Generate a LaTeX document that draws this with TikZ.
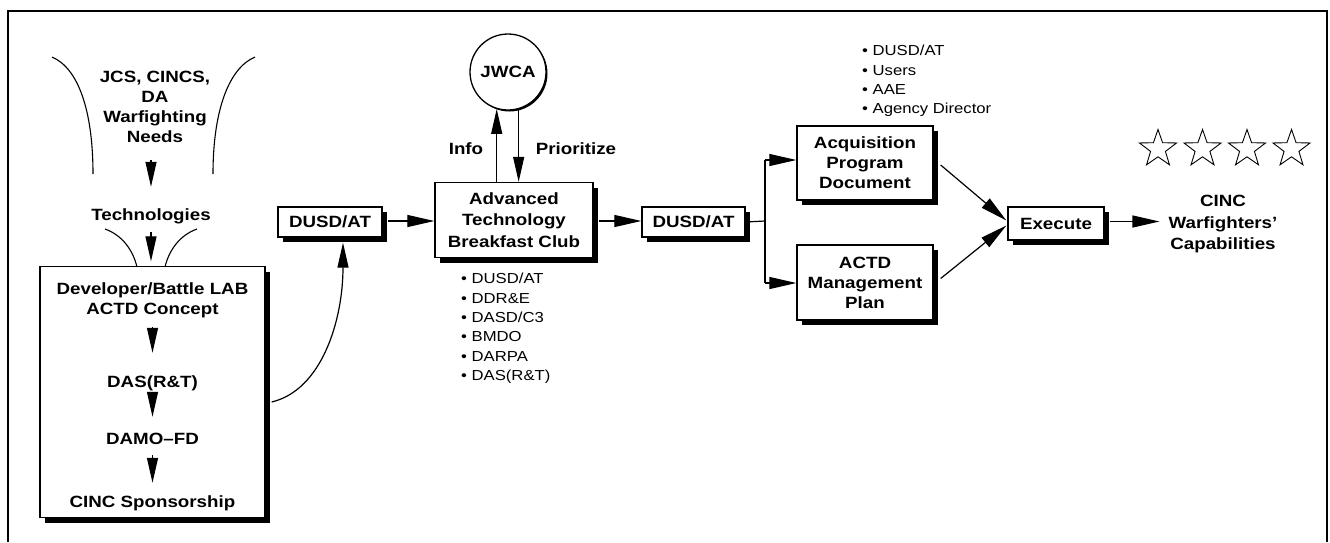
\documentclass[tikz,border=0pt]{standalone}
\usepackage{fontspec}
\setmainfont{Liberation Sans}[FakeStretch=1.15]
\usetikzlibrary{arrows.meta,shapes.geometric,shadows,calc}

\begin{document}
\begin{tikzpicture}[x=1pt,y=-1pt,
  every node/.style={inner sep=0pt},
  bf/.style={font=\bfseries\fontsize{16.3}{20}\selectfont, align=center},
  bfw/.style={font=\bfseries\fontsize{16.3}{21.5}\selectfont, align=center},
  one/.style={text height=12pt, text depth=4pt},
  lst/.style={font=\fontsize{14.5}{19.4}\selectfont, align=left},
  box/.style={draw, line width=1.3pt, fill=white,
    drop shadow={shadow xshift=5pt, shadow yshift=-5pt, fill=black, opacity=1}},
  con/.style={line width=1.2pt},
  tipH/.tip={Triangle[length=27pt,width=12pt]},
  tipV/.tip={Triangle[length=25pt,width=11pt]},
  arr/.style={line width=1.2pt, -tipH},
  varr/.style={line width=1.2pt, -tipV},
  fun/.style={line width=1.1pt},
  starn/.style={star, star points=5, star point ratio=2.5, draw, line width=0.9pt,
    minimum size=39pt}
]
\useasboundingbox (0,0) rectangle (1330,542);

% outer frame
\draw[line width=1.6pt] (8,542) -- (8,11) -- (1327,11) -- (1327,542);

% ---- needs funnel ----
\node[bf] (needs) at (155,106.5) {JCS, CINCS,\\DA\\Warfighting\\Needs};
\node[bf, one] (tech) at (151,216) {Technologies};
\coordinate (fl1) at (52,57);  \coordinate (fl2) at (93,174);
\coordinate (fr1) at (255,57); \coordinate (fr2) at (213,174);
\draw[fun] (fl1) .. controls (78,68) and (93,110) .. (fl2);
\draw[fun] (fr1) .. controls (229,68) and (213,110) .. (fr2);
\draw[varr, shorten <=17.5pt, shorten >=21pt] (needs.south -| tech) -- (tech.north);

% ---- developer box ----
\node[box, minimum width=225pt, minimum height=251pt] (dev) at (152.5,392) {};
\coordinate (tl1) at (105,229); \coordinate (tl2) at (137,267);
\coordinate (tr1) at (197,229); \coordinate (tr2) at (165,267);
\draw[fun] (tl1) .. controls (122,235) and (133,250) .. (tl2);
\draw[fun] (tr1) .. controls (180,235) and (169,250) .. (tr2);
\draw[varr, shorten <=8pt, shorten >=4.5pt] (tech.south) -- (dev.north -| tech);

\node[bf] (dev1) at (152.5,300) {Developer/Battle LAB\\ACTD Concept};
\node[bf, one] (das) at (152.5,383) {DAS(R\&T)};
\node[bf, one] (damo) at (152.5,440.5) {DAMO–FD};
\node[bf, one] (spons) at (152.5,503) {CINC Sponsorship};
\draw[varr, shorten <=9pt, shorten >=22pt] (dev1.south) -- (das.north);
\draw[varr, shorten <=1pt, shorten >=15.5pt] (das.south) -- (damo.north);
\draw[varr, shorten <=6.5pt, shorten >=12pt] (damo.south) -- (spons.north);

% ---- first review ----
\node[box, bf, minimum width=104pt, minimum height=30pt] (dusd1) at (330,222) {DUSD/AT};
\draw[con, -tipV]
  ($(dev.east)+(6,10)$) .. controls (322,390) and (343,320) .. ($(dusd1.south)+(13,5)$);

\node[box, bfw, minimum width=158pt, minimum height=75pt] (atbc) at (514,220)
  {Advanced\\Technology\\Breakfast Club};
\draw[arr] ($(dusd1.east)+(5,-1)$) -- (atbc.west |- 0,221);

\node[lst, anchor=north west] (atbclist) at (461,273)
  {\textbullet\ DUSD/AT\\\textbullet\ DDR\&E\\\textbullet\ DASD/C3\\\textbullet\ BMDO\\\textbullet\ DARPA\\\textbullet\ DAS(R\&T)};

% ---- JWCA ----
\node[circle, draw, line width=1.3pt, fill=white, minimum size=76pt, bf,
  drop shadow={shadow xshift=1.5pt, shadow yshift=-1.5pt, fill=black, opacity=1}]
  (jwca) at (508,72) {JWCA};
\draw[varr] (atbc.north -| jwca.-107) -- (jwca.-107);
\draw[varr] (jwca.-74) -- (atbc.north -| jwca.-74);
\node[bf, one] (info) at (466,150) {Info};
\node[bf, one] (prio) at (576,150) {Prioritize};

% ---- second review ----
\node[box, bf, minimum width=103pt, minimum height=30pt] (dusd2) at (693.5,222) {DUSD/AT};
\draw[arr] ($(atbc.east)+(5,1)$) -- (dusd2.west |- 0,221);

\node[box, bf, minimum width=136pt, minimum height=74pt] (acq) at (865,163)
  {Acquisition\\Program\\Document};
\node[box, bf, minimum width=136pt, minimum height=75pt] (actd) at (865,282.5)
  {ACTD\\Management\\Plan};
\node[lst, anchor=north west] (acqlist) at (862,45)
  {\textbullet\ DUSD/AT\\\textbullet\ Users\\\textbullet\ AAE\\\textbullet\ Agency Director};

\coordinate (bj) at (765,221);
\coordinate (bt) at (765,160);
\coordinate (bb) at (765,283);
\draw[con] (dusd2.east) -- (bj);
\draw[con] (bt) -- (bb);
\draw[arr] (bt) -- (acq.west |- bt);
\draw[arr] (bb) -- (actd.west |- bb);

% ---- execution ----
\node[box, bf, minimum width=96pt, minimum height=33pt] (exec) at (1056,223.5) {Execute};
\draw[arr] ($(acq.east)+(7,2)$) -- ($(exec.west)+(-1,-3)$);
\draw[arr] ($(actd.east)+(7,-4)$) -- ($(exec.west)+(-1,2)$);

\node[bfw] (cap) at (1223,224) {CINC\\Warfighters'\\Capabilities};
\draw[arr, shorten >=9pt] ($(exec.east)+(5,-2)$) -- (cap.west |- 0,221.5);

\node[starn] (s1) at (1158,149) {};
\node[starn] (s2) at (1202.5,149) {};
\node[starn] (s3) at (1247,149) {};
\node[starn] (s4) at (1291.5,149) {};
\end{tikzpicture}
\end{document}
